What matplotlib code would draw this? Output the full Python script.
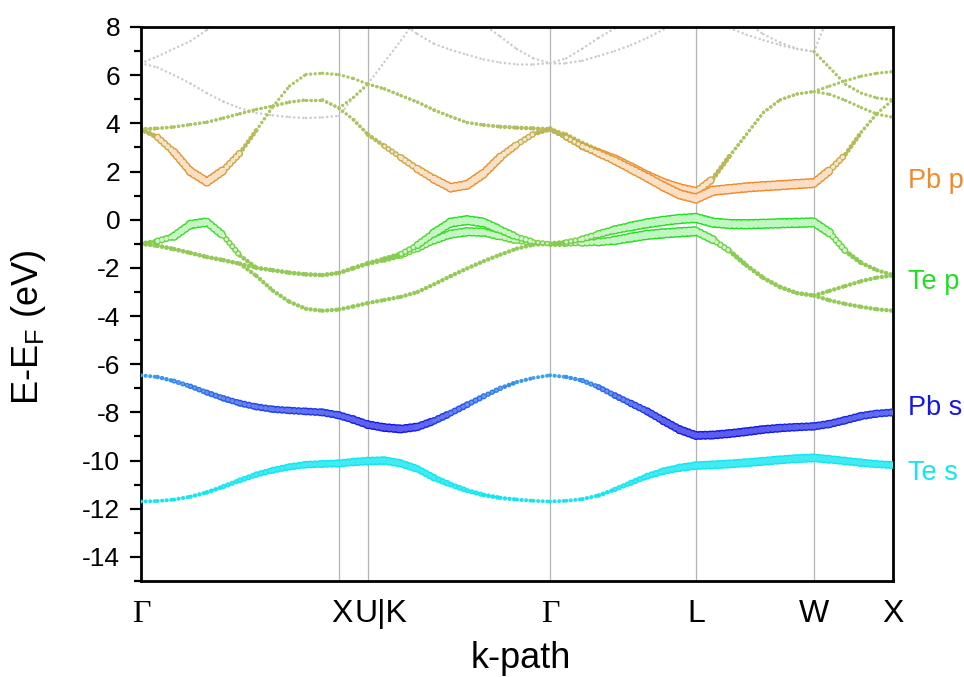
import numpy as np
import matplotlib
matplotlib.use("Agg")
import matplotlib.pyplot as plt
from matplotlib.collections import LineCollection
from matplotlib.colors import to_rgb
from matplotlib.ticker import MultipleLocator
from matplotlib.transforms import blended_transform_factory

plt.rcParams['font.family'] = ['Liberation Sans', 'DejaVu Sans']
plt.rcParams['mathtext.fontset'] = 'custom'
plt.rcParams['mathtext.rm'] = 'Liberation Sans'
plt.rcParams['axes.unicode_minus'] = False
plt.rcParams['lines.scale_dashes'] = False

N = np.nan

# k-path: high-symmetry points and number of k-steps in each segment
kpath_labels = ['Γ', 'X', 'U|K', 'Γ', 'L', 'W', 'X']
kpath_nodes = [0, 198, 227, 409, 555, 673, 752]
seg_steps = [12, 2, 11, 9, 7, 5]

k = [kpath_nodes[0]]
for a, b, n in zip(kpath_nodes[:-1], kpath_nodes[1:], seg_steps):
    k += list(np.linspace(a, b, n + 1)[1:])
k = np.array(k)

# band energies (eV), segments: G-X | X-U | K-G | G-L | L-W | W-X
te_s = [-11.70, -11.68, -11.62, -11.50, -11.32, -11.08, -10.82, -10.58, -10.40, -10.26, -10.17, -10.14, -10.12,
        -10.06, -10.02,
        -10.00, -10.12, -10.35, -10.72, -11.00, -11.25, -11.43, -11.55, -11.62, -11.67, -11.70,
        -11.67, -11.60, -11.45, -11.20, -10.92, -10.65, -10.44, -10.30, -10.21,
        -10.18, -10.14, -10.09, -10.03, -9.97, -9.92, -9.89,
        -9.95, -10.02, -10.09, -10.15, -10.19]
pb_s = [-6.46, -6.53, -6.70, -6.92, -7.18, -7.42, -7.62, -7.77, -7.87, -7.92, -7.96, -8.00, -8.12,
        -8.30, -8.51,
        -8.63, -8.69, -8.60, -8.35, -8.03, -7.68, -7.33, -7.00, -6.74, -6.57, -6.46,
        -6.53, -6.68, -6.95, -7.30, -7.63, -7.96, -8.35, -8.72, -8.96,
        -8.94, -8.88, -8.80, -8.71, -8.65, -8.61, -8.58,
        -8.48, -8.32, -8.15, -8.05, -8.00]
val1 = [-1.00, -1.08, -1.22, -1.38, -1.55, -1.68, -1.83, -2.34, -2.95, -3.41, -3.70, -3.78, -3.73,
        -3.60, -3.46,
        -3.33, -3.20, -3.00, -2.68, -2.34, -2.02, -1.72, -1.45, -1.20, -1.04, -1.00,
        -1.00, -0.97, -0.93, -0.86, -0.74, -0.63, -0.57, -0.52, -0.48,
        -0.83, -1.30, -1.90, -2.42, -2.80, -3.05, -3.15,
        -3.35, -3.50, -3.62, -3.72, -3.78]
val2 = [-1.00, -1.08, -1.22, -1.38, -1.55, -1.68, -1.83, -2.00, -2.10, -2.20, -2.27, -2.30, -2.21,
        -2.02, -1.83,
        -1.68, -1.50, -1.20, -0.85, -0.60, -0.50, -0.52, -0.70, -0.88, -0.98, -1.00,
        -1.00, -0.97, -0.93, -0.86, -0.74, -0.63, -0.57, -0.52, -0.48,
        -0.83, -1.30, -1.90, -2.42, -2.80, -3.05, -3.15,
        -2.95, -2.75, -2.55, -2.40, -2.32]
val3 = [-1.00, -0.89, -0.69, -0.20, -0.10, -0.67, -1.49, -2.00, -2.10, -2.20, -2.27, -2.30, -2.21,
        -2.00, -1.80,
        -1.62, -1.42, -1.05, -0.55, -0.12, -0.02, -0.12, -0.42, -0.72, -0.92, -1.00,
        -0.93, -0.80, -0.60, -0.42, -0.28, -0.15, -0.05, 0.03, 0.07,
        -0.12, -0.18, -0.19, -0.17, -0.15, -0.13, -0.11,
        -0.55, -1.31, -1.80, -2.10, -2.30]
con1 = [3.76, 3.42, 2.80, 2.00, 1.57, 2.05, 2.77, 3.72, 4.70, 5.55, 6.03, 6.08, 6.02,
        5.86, 5.63,
        5.43, 5.15, 4.88, 4.55, 4.28, 4.03, 3.93, 3.86, 3.82, 3.79, 3.76,
        3.42, 3.05, 2.78, 2.52, 2.18, 1.82, 1.52, 1.30, 1.15,
        1.70, 2.65, 3.55, 4.45, 4.98, 5.22, 5.32,
        5.55, 5.77, 5.96, 6.08, 6.15]
con2 = [3.76, 3.79, 3.85, 3.95, 4.05, 4.22, 4.40, 4.58, 4.72, 4.88, 4.97, 4.97, 4.63,
        4.15, 3.53,
        3.05, 2.57, 2.10, 1.68, 1.33, 1.45, 1.92, 2.60, 3.12, 3.56, 3.76,
        3.42, 3.05, 2.75, 2.45, 2.10, 1.75, 1.38, 1.05, 0.88,
        1.20, 1.27, 1.34, 1.39, 1.43, 1.48, 1.52,
        2.05, 2.72, 3.64, 4.42, 4.98]
con3 = [3.76, 3.79, 3.85, 3.95, 4.05, 4.22, 4.40, 4.58, 4.72, 4.88, 4.97, 4.97, 4.63,
        5.08, 5.63,
        5.43, 5.15, 4.88, 4.55, 4.28, 4.03, 3.93, 3.86, 3.82, 3.79, 3.76,
        3.55, 3.20, 2.90, 2.60, 2.28, 1.95, 1.62, 1.38, 1.20,
        1.70, 2.65, 3.55, 4.45, 4.98, 5.22, 5.32,
        5.20, 4.95, 4.65, 4.38, 4.25]
con4 = [N] * 41 + [6.98, 6.30, 5.62, 5.25, 5.05, 4.98]

# higher (grey) bands, NaN where they are off the chart
hi_up = [6.50, 6.78, 7.10, 7.42, 7.88, 8.35] + [N] * 41
hi_down = [6.50, 6.32, 6.00, 5.65, 5.25, 4.90, 4.63, 4.43, 4.33, 4.26, 4.22, 4.25, 4.31,
           5.08, 5.65, 6.55, 7.45, 8.40] + [N] * 29
hi_g1 = [N] * 16 + [8.20, 7.70, 7.30, 7.05, 6.85, 6.65, 6.52, 6.45, 6.45, 6.50,
                    6.50, 6.60, 6.80, 7.00, 7.25, 7.55, 7.90, 8.30] + [N] * 13
hi_g2 = [N] * 21 + [8.10, 7.60, 7.08, 6.70, 6.50, 6.70, 7.10, 7.55, 7.95, 8.40] + [N] * 16
hi_w1 = [N] * 35 + [8.45, 7.95, 7.68, 7.45, 7.25, 7.08, 6.98] + [N] * 5
hi_w2 = [N] * 36 + [8.50, 8.20, 7.70, 7.35, 7.10, 6.98, 8.60] + [N] * 4

# orbital weights: + Pb character, - Te character (0 = mixed / small)
w_te_s = [0.10, 0.10, 0.12, 0.15, 0.20, 0.28, 0.38, 0.50, 0.60, 0.70, 0.75, 0.80, 0.85,
          0.90, 0.95,
          0.95, 0.90, 0.80, 0.65, 0.50, 0.38, 0.28, 0.20, 0.14, 0.10, 0.10,
          0.10, 0.12, 0.18, 0.28, 0.42, 0.58, 0.72, 0.85, 0.95,
          1.00, 1.00, 1.00, 1.00, 1.00, 1.00, 1.00,
          0.95, 0.90, 0.90, 0.85, 0.85]
w_pb_s = [0.10, 0.15, 0.25, 0.35, 0.45, 0.55, 0.62, 0.68, 0.72, 0.75, 0.78, 0.82, 0.85,
          0.90, 0.95,
          1.00, 1.00, 0.95, 0.85, 0.70, 0.55, 0.42, 0.30, 0.20, 0.12, 0.10,
          0.15, 0.25, 0.40, 0.55, 0.68, 0.80, 0.90, 0.97, 1.00,
          1.00, 1.00, 1.00, 0.98, 0.95, 0.92, 0.90,
          0.90, 0.90, 0.88, 0.85, 0.82]
w_val1 = [-0.15] * 47
w_val2 = ([-0.15] * 13 + [-0.15, -0.15] +
          [-0.20, -0.30, -0.50, -0.70, -0.85, -0.90, -0.85, -0.70, -0.50, -0.30, -0.20] +
          [-0.30, -0.50, -0.70, -0.85, -0.95, -1.00, -1.00, -1.00, -1.00] +
          [-0.60, -0.30, -0.20, -0.15, -0.15, -0.15, -0.15] +
          [-0.15] * 5)
w_val3 = ([-0.15, -0.35, -0.70, -0.90, -0.90, -0.60, -0.20, -0.15, -0.15, -0.15, -0.15, -0.15, -0.15] +
          [-0.15, -0.15] +
          [-0.20, -0.30, -0.55, -0.80, -0.95, -1.00, -0.95, -0.80, -0.60, -0.40, -0.20] +
          [-0.30, -0.45, -0.65, -0.80, -0.90, -1.00, -1.00, -1.00, -1.00] +
          [-1.00] * 7 +
          [-0.70, -0.30, -0.20, -0.15, -0.15])
w_con1 = ([0.10, 0.45, 0.70, 0.85, 0.90, 0.80, 0.35, 0.05, 0, 0, 0, 0, 0] + [0, 0] +
          [0, 0, 0, 0, 0, 0, 0.05, 0.10, 0.15, 0.15, 0.15] +
          [0.40, 0.60, 0.75, 0.85, 0.90, 0.95, 1.00, 1.00, 1.00] +
          [0.40, 0.10, 0, 0, 0, 0, 0] + [0] * 5)
w_con2 = ([0.10, 0.05] + [0] * 11 + [0.05, 0.10] +
          [0.25, 0.45, 0.65, 0.80, 0.90, 0.95, 0.90, 0.75, 0.55, 0.35, 0.20] +
          [0.35, 0.50, 0.65, 0.75, 0.85, 0.90, 0.95, 1.00, 1.00] +
          [1.00] * 7 +
          [0.70, 0.30, 0.10, 0, 0])
w_con3 = [0.10, 0.05] + [0] * 24 + [0.10] * 9 + [0] * 12
w_zero = [0] * 47

# colours
PB_P, TE_P = '#f28a2a', '#1fe01f'
PB_S, TE_S = '#1616e6', '#12e6f0'
OLIVE, SKY, GREY = '#a9c662', '#40b4f0', '#cbcbcb'

RING = 1.0
DOTS = (0, (0.1, 3.2))


def mix(c1, c2, t):
    return (1 - t) * np.array(to_rgb(c1)) + t * np.array(to_rgb(c2))


def add_band(ax, E, w, lo, pos, neg, z, dmin=2.4, dmax=7.6, tint=0.72):
    E = np.asarray(E, float)
    w = np.asarray(w, float)
    segs, cols, widths = [], [], []
    holes, hole_c, hole_w = [], [], []
    for i in range(len(k) - 1):
        if np.isnan(E[i]) or np.isnan(E[i + 1]):
            continue
        seg = [(k[i], E[i]), (k[i + 1], E[i + 1])]
        wm = 0.5 * (w[i] + w[i + 1])
        t = abs(wm)
        c = mix(lo, pos if wm >= 0 else neg, t)
        d = dmin + t * (dmax - dmin)
        segs.append(seg)
        cols.append(c)
        widths.append(d)
        if t >= 0.3:
            holes.append(seg)
            hole_c.append(mix(c, 'white', tint))
            hole_w.append(d - 2 * RING)
    ax.add_collection(LineCollection(segs, colors=cols, linewidths=widths,
                                     linestyles=[DOTS], capstyle='round', zorder=z))
    if holes:
        ax.add_collection(LineCollection(holes, colors=hole_c, linewidths=hole_w,
                                         linestyles=[DOTS], capstyle='round', zorder=z))


fig = plt.figure(figsize=(9.64, 6.77), dpi=100)
ax = fig.add_axes([141 / 964, 1 - 581 / 677, 752 / 964, 554 / 677])

for x in kpath_nodes[1:-1]:
    ax.axvline(x, color='#b4b4b4', lw=0.9, zorder=0)

for E in [hi_up, hi_down, hi_g1, hi_g2, hi_w1, hi_w2]:
    add_band(ax, E, w_zero, GREY, GREY, GREY, 1, dmin=1.8)

add_band(ax, con4, w_zero, OLIVE, PB_P, TE_P, 2)
add_band(ax, con3, w_con3, OLIVE, PB_P, TE_P, 2)
add_band(ax, con1, w_con1, OLIVE, PB_P, TE_P, 2.1)
add_band(ax, con2, w_con2, OLIVE, PB_P, TE_P, 2.2)
add_band(ax, val1, w_val1, OLIVE, PB_P, TE_P, 2)
add_band(ax, val2, w_val2, OLIVE, PB_P, TE_P, 2.1)
add_band(ax, val3, w_val3, OLIVE, PB_P, TE_P, 2.2)
add_band(ax, pb_s, w_pb_s, SKY, PB_S, PB_S, 3, dmax=6.6, tint=0.3)
add_band(ax, te_s, w_te_s, TE_S, TE_S, TE_S, 3, dmax=6.6, tint=0.2)

ax.set_xlim(kpath_nodes[0], kpath_nodes[-1])
ax.set_ylim(-15, 8)
ax.yaxis.set_major_locator(MultipleLocator(2))
ax.yaxis.set_minor_locator(MultipleLocator(1))
ax.tick_params(axis='y', which='major', direction='out', length=8, width=1.6,
               labelsize=19, pad=7)
ax.tick_params(axis='y', which='minor', direction='out', length=5, width=1.6)
ax.set_xticks([])
for s in ax.spines.values():
    s.set_linewidth(2.0)

# k-point labels
tr = blended_transform_factory(ax.transData, ax.transAxes)
mid = 0.5 * (kpath_nodes[1] + kpath_nodes[2])
for i, (lab, x) in enumerate(zip(kpath_labels, kpath_nodes)):
    ha = 'center'
    if i == 1:
        x, ha = mid - 1, 'right'
    elif i == 2:
        x, ha = mid + 1, 'left'
    fam = ['Liberation Serif'] if lab == 'Γ' else ['Liberation Sans']
    ax.text(x, -0.074, lab, transform=tr, ha=ha, va='baseline',
            fontsize=23, family=fam)

fig.text(521 / 964, 1 - 668 / 677, 'k-path', ha='center', va='baseline', fontsize=26)
fig.text(28 / 964, 1 - 327 / 677, r'E-E$_{\rm F}$ (eV)', rotation=90,
         ha='center', va='center', fontsize=26)

# orbital labels on the right
label_names = ['Pb p', 'Te p', 'Pb s', 'Te s']
label_cols = [PB_P, TE_P, PB_S, TE_S]
label_E = [1.6, -2.6, -7.8, -10.5]
tr2 = blended_transform_factory(ax.transAxes, ax.transData)
for name, c, e in zip(label_names, label_cols, label_E):
    ax.text(1.02, e, name, color=c, transform=tr2, ha='left', va='center',
            fontsize=19.5, clip_on=False)

fig.savefig('out.png', dpi=100)
